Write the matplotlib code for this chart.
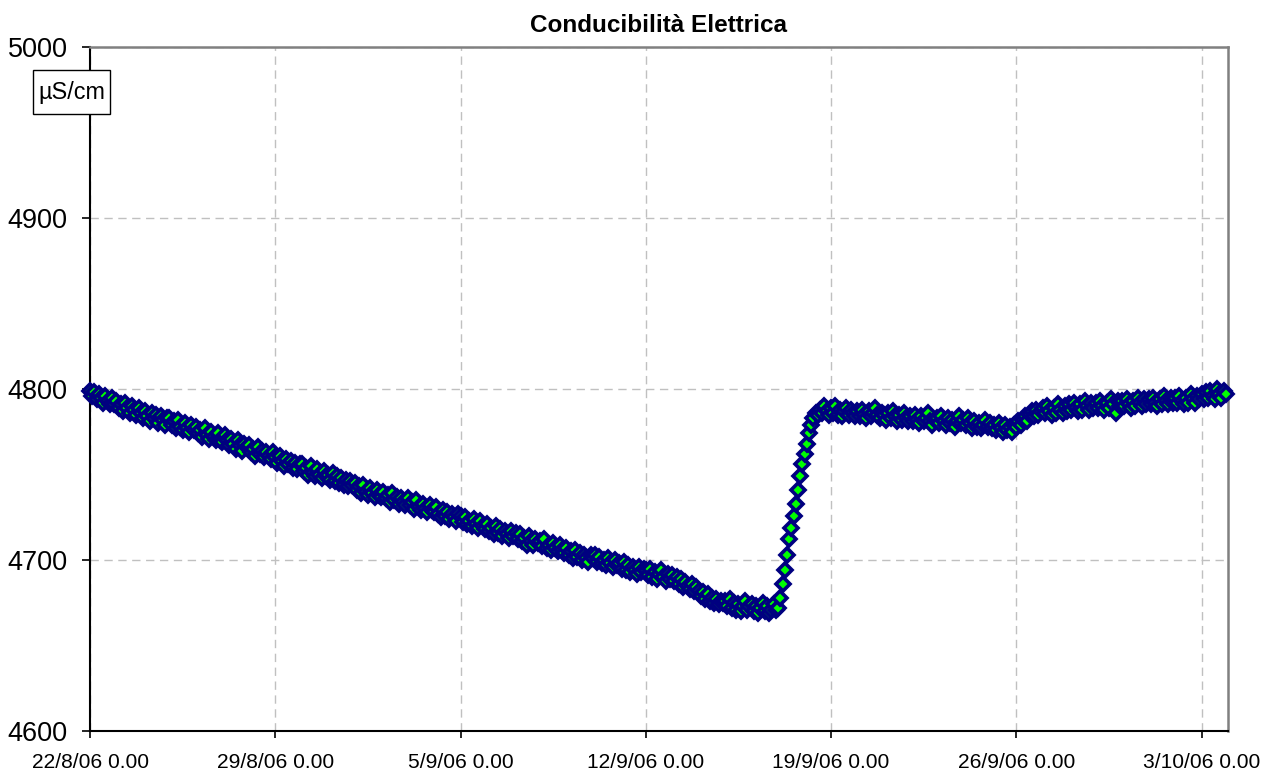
import matplotlib
matplotlib.use("Agg")
import matplotlib.pyplot as plt
from matplotlib.patches import Rectangle
import pandas as pd

plt.rcParams['font.family'] = ['Liberation Sans', 'DejaVu Sans']

title = "Conducibilità Elettrica"
unit_label = "µS/cm"

start_time = "2006-08-22 00:00"
sample_step = "2h"

# conductivity readings, one row per day (12 readings, every 2 hours)
day_values = [
    [4799, 4796, 4798, 4794, 4797, 4795, 4792, 4796, 4793, 4791, 4795, 4791],  # 22/8
    [4793, 4789, 4791, 4787, 4792, 4789, 4786, 4790, 4788, 4785, 4789, 4786],  # 23/8
    [4783, 4787, 4784, 4781, 4786, 4783, 4785, 4780, 4784, 4782, 4779, 4783],  # 24/8
    [4783, 4779, 4781, 4777, 4782, 4778, 4776, 4780, 4777, 4775, 4779, 4776],  # 25/8
    [4778, 4774, 4776, 4772, 4777, 4773, 4771, 4775, 4772, 4770, 4774, 4770],  # 26/8
    [4769, 4773, 4770, 4767, 4771, 4768, 4765, 4770, 4767, 4764, 4768, 4766],  # 27/8
    [4767, 4763, 4765, 4761, 4766, 4762, 4764, 4760, 4763, 4761, 4759, 4763],  # 28/8
    [4760, 4757, 4761, 4758, 4755, 4759, 4756, 4758, 4754, 4757, 4753, 4756],  # 29/8
    [4756, 4752, 4754, 4750, 4755, 4751, 4749, 4753, 4750, 4748, 4752, 4749],  # 30/8
    [4750, 4747, 4751, 4746, 4749, 4745, 4748, 4744, 4747, 4743, 4746, 4744],  # 31/8
    [4745, 4741, 4743, 4739, 4744, 4740, 4738, 4742, 4739, 4737, 4741, 4738],  # 1/9
    [4737, 4740, 4736, 4738, 4734, 4739, 4735, 4737, 4733, 4736, 4734, 4732],  # 2/9
    [4736, 4732, 4734, 4730, 4735, 4731, 4729, 4733, 4730, 4728, 4732, 4729],  # 3/9
    [4728, 4731, 4727, 4725, 4729, 4726, 4728, 4724, 4727, 4725, 4723, 4727],  # 4/9
    [4726, 4722, 4725, 4721, 4723, 4720, 4724, 4721, 4719, 4723, 4720, 4718],  # 5/9
    [4721, 4717, 4719, 4715, 4720, 4716, 4718, 4714, 4717, 4715, 4713, 4717],  # 6/9
    [4714, 4716, 4712, 4715, 4711, 4713, 4709, 4714, 4711, 4709, 4712, 4710],  # 7/9
    [4711, 4708, 4712, 4707, 4709, 4706, 4710, 4707, 4705, 4709, 4706, 4704],  # 8/9
    [4707, 4703, 4705, 4701, 4706, 4702, 4704, 4700, 4703, 4701, 4699, 4703],  # 9/9
    [4701, 4703, 4699, 4702, 4698, 4700, 4697, 4701, 4698, 4696, 4700, 4697],  # 10/9
    [4698, 4695, 4699, 4694, 4697, 4693, 4696, 4694, 4692, 4696, 4693, 4695],  # 11/9
    [4694, 4691, 4695, 4690, 4693, 4689, 4692, 4694, 4690, 4688, 4692, 4689],  # 12/9
    [4691, 4688, 4690, 4686, 4689, 4684, 4687, 4685, 4683, 4686, 4682, 4684],  # 13/9
    [4682, 4679, 4681, 4677, 4680, 4676, 4678, 4675, 4677, 4674, 4676, 4675],  # 14/9
    [4676, 4673, 4677, 4672, 4675, 4671, 4674, 4670, 4673, 4676, 4671, 4673],  # 15/9
    [4674, 4670, 4673, 4669, 4672, 4675, 4670, 4673, 4669, 4671, 4674, 4671],  # 16/9
    [4672, 4678, 4686, 4694, 4703, 4712, 4719, 4726, 4733, 4741, 4749, 4756],  # 17/9
    [4762, 4768, 4774, 4779, 4783, 4786, 4785, 4788, 4786, 4790, 4787, 4785],  # 18/9
    [4789, 4786, 4790, 4785, 4788, 4784, 4787, 4789, 4785, 4788, 4786, 4784],  # 19/9
    [4787, 4784, 4788, 4785, 4783, 4787, 4784, 4786, 4789, 4785, 4783, 4786],  # 20/9
    [4785, 4782, 4786, 4783, 4787, 4784, 4781, 4785, 4782, 4786, 4783, 4781],  # 21/9
    [4784, 4781, 4785, 4782, 4780, 4784, 4781, 4783, 4786, 4781, 4779, 4782],  # 22/9
    [4783, 4780, 4784, 4781, 4779, 4783, 4780, 4782, 4778, 4781, 4784, 4780],  # 23/9
    [4782, 4779, 4783, 4780, 4777, 4781, 4778, 4780, 4777, 4779, 4782, 4778],  # 24/9
    [4780, 4777, 4779, 4776, 4780, 4777, 4775, 4779, 4776, 4778, 4775, 4779],  # 25/9
    [4778, 4781, 4779, 4782, 4784, 4781, 4785, 4787, 4784, 4788, 4785, 4787],  # 26/9
    [4789, 4786, 4790, 4787, 4785, 4789, 4786, 4791, 4788, 4786, 4790, 4787],  # 27/9
    [4791, 4788, 4792, 4789, 4787, 4791, 4788, 4793, 4790, 4788, 4792, 4789],  # 28/9
    [4792, 4789, 4793, 4790, 4788, 4792, 4789, 4794, 4791, 4786, 4793, 4790],  # 29/9
    [4793, 4790, 4794, 4791, 4789, 4793, 4790, 4795, 4792, 4790, 4794, 4791],  # 30/9
    [4794, 4791, 4795, 4792, 4790, 4794, 4791, 4796, 4793, 4791, 4795, 4792],  # 1/10
    [4795, 4792, 4796, 4793, 4791, 4795, 4792, 4797, 4794, 4792, 4796, 4794],  # 2/10
    [4797, 4794, 4798, 4795, 4799, 4796, 4794, 4800, 4797, 4795, 4799, 4797],  # 3/10
]

tick_dates = ["2006-08-22", "2006-08-29", "2006-09-05", "2006-09-12",
              "2006-09-19", "2006-09-26", "2006-10-03"]
tick_labels = ["22/8/06 0.00", "29/8/06 0.00", "5/9/06 0.00", "12/9/06 0.00",
               "19/9/06 0.00", "26/9/06 0.00", "3/10/06 0.00"]
x_limits = ["2006-08-22", "2006-10-04"]
y_ticks = [4600, 4700, 4800, 4900, 5000]

values = [v for day in day_values for v in day]
times = pd.date_range(start_time, periods=len(values), freq=sample_step)

fig = plt.figure(figsize=(12.71, 7.76), dpi=100)
ax = fig.add_axes([90/1271, 1-731/776, (1228-90)/1271, (731-47)/776])

ax.plot(times, values, color='#000080', lw=1.0, marker='D', markersize=7.5,
        markerfacecolor='#00FF00', markeredgecolor='#000080', markeredgewidth=2.6,
        zorder=3, clip_on=False)

ax.set_xlim(pd.Timestamp(x_limits[0]), pd.Timestamp(x_limits[1]))
ax.set_ylim(y_ticks[0], y_ticks[-1])
ax.set_yticks(y_ticks)
ax.set_xticks([pd.Timestamp(d) for d in tick_dates])
ax.set_xticklabels(tick_labels)

ax.grid(True, color='#C0C0C0', linestyle=(0, (6, 4)), linewidth=1.0, zorder=0)
ax.set_axisbelow(True)

for s in ['left', 'bottom']:
    ax.spines[s].set_color('black')
    ax.spines[s].set_linewidth(1.5)
for s in ['top', 'right']:
    ax.spines[s].set_color('#808080')
    ax.spines[s].set_linewidth(1.8)

ax.tick_params(axis='y', direction='out', length=6, width=1.2, labelsize=19.5, pad=10)
ax.tick_params(axis='x', direction='out', length=5, width=1.2, labelsize=15.1, pad=11)

ax.set_title(title, fontsize=17.5, fontweight='bold', pad=11)

# unit box
bx0, by0, bx1, by1 = 33, 70, 110, 114
rect = Rectangle((bx0/1271, 1-by1/776), (bx1-bx0)/1271, (by1-by0)/776,
                 transform=fig.transFigure, facecolor='white', edgecolor='black',
                 linewidth=1.0, zorder=10)
fig.add_artist(rect)
fig.text((bx0+bx1)/2/1271, 1-(by0+by1)/2/776, unit_label, fontsize=16.8,
         ha='center', va='center', zorder=11)

fig.savefig("out.png", dpi=100)
